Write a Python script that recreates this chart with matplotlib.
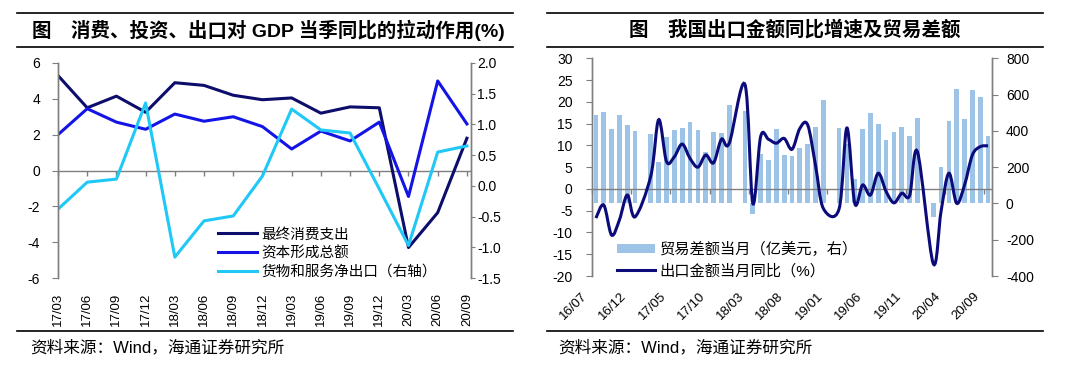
import numpy as np
import matplotlib
matplotlib.use('Agg')
import matplotlib.pyplot as plt
from matplotlib.path import Path
from matplotlib.patches import PathPatch, Patch
from matplotlib.lines import Line2D
from matplotlib.transforms import ScaledTranslation

plt.rcParams['font.family'] = ['Liberation Sans', 'Noto Sans CJK SC']
plt.rcParams['axes.unicode_minus'] = False

# left chart: quarterly contribution to GDP growth (%)
quarters = ['17/03', '17/06', '17/09', '17/12', '18/03', '18/06', '18/09', '18/12',
            '19/03', '19/06', '19/09', '19/12', '20/03', '20/06', '20/09']
consumption = [5.3, 3.5, 4.15, 3.25, 4.9, 4.75, 4.2, 3.95, 4.05, 3.2, 3.55, 3.5, -4.3, -2.35, 1.8]
investment = [2.0, 3.45, 2.7, 2.3, 3.15, 2.75, 3.0, 2.45, 1.2, 2.2, 1.65, 2.7, -1.45, 5.0, 2.6]
net_exports = [-0.38, 0.06, 0.11, 1.35, -1.16, -0.57, -0.49, 0.16, 1.25, 0.91, 0.86, -0.05, -0.97, 0.55, 0.65]

# right chart: monthly, 16/07 .. 20/09 (January left blank, Feb = Jan-Feb)
trade_balance = [487, 504, 408, 487, 434, 398, np.nan, 381, 229, 367, 403, 415,
                 451, 403, 285, 395, 390, 540, np.nan, 509, -60, 270, 240, 412,
                 268, 263, 305, 330, 419, 569, np.nan, 414, 326, 135, 412, 499,
                 440, 347, 392, 421, 373, 471, np.nan, -74, 200, 453, 632, 466,
                 623, 589, 370]
export_yoy = [-6.7, -3.7, -10.6, -7.1, -1.4, -6.4, np.nan, 3.0, 15.9, 6.3, 7.4, 10.3,
              7.0, 5.0, 7.8, 6.0, 11.4, 10.5, np.nan, 24.0, -3.3, 12.0, 11.4, 10.5,
              11.6, 9.1, 13.9, 14.7, 5.4, -4.5, np.nan, -4.6, 14.0, -3.3, 0.9, -1.4,
              3.6, -0.6, -3.2, -1.0, -1.5, 8.5, np.nan, -17.1, -5.2, 3.6, -3.3, 0.9,
              7.8, 9.7, 9.9]
month_labels = ['16/07', '16/12', '17/05', '17/10', '18/03', '18/08',
                '19/01', '19/06', '19/11', '20/04', '20/09']

NAVY = '#0D0D6B'
BLUE = '#1414E6'
CYAN = '#1FC8F7'
LINE2 = '#0B0B7A'
BAR = '#9DC3E6'
GRAY = '#7F7F7F'


def smooth_path(xs, ys):
    # Excel-like smoothed line (Catmull-Rom as cubic Bezier)
    pts = np.column_stack([xs, ys])
    n = len(pts)
    verts = [pts[0]]
    codes = [Path.MOVETO]
    for i in range(n - 1):
        p0 = pts[i - 1] if i > 0 else pts[i]
        p1, p2 = pts[i], pts[i + 1]
        p3 = pts[i + 2] if i + 2 < n else pts[i + 1]
        verts += [p1 + (p2 - p0) / 6, p2 - (p3 - p1) / 6, p2]
        codes += [Path.CURVE4] * 3
    return Path(verts, codes)


def style_spines(ax):
    for s in ['top', 'bottom']:
        ax.spines[s].set_visible(False)
    for s in ['left', 'right']:
        ax.spines[s].set_color(GRAY)
        ax.spines[s].set_linewidth(1.0)


W, H = 1080, 369
fig = plt.figure(figsize=(W / 100, H / 100), dpi=100)

# ---- decorations: rules, titles, sources
for x0, x1 in [(17, 513), (547, 1043)]:
    for y in [13, 47]:
        fig.add_artist(Line2D([x0 / W, x1 / W], [1 - y / H, 1 - y / H], color='black', lw=1.2))
    fig.add_artist(Line2D([x0 / W, x1 / W], [1 - 331 / H, 1 - 331 / H], color='black', lw=1.2))

fig.text(268 / W, 1 - 30 / H, '图　消费、投资、出口对 GDP 当季同比的拉动作用(%)',
         ha='center', va='center', fontsize=14, fontweight='bold')
fig.text(795 / W, 1 - 30 / H, '图　我国出口金额同比增速及贸易差额',
         ha='center', va='center', fontsize=14, fontweight='bold')
fig.text(30 / W, 1 - 347 / H, '资料来源：Wind，海通证券研究所', ha='left', va='center', fontsize=12)
fig.text(558 / W, 1 - 347 / H, '资料来源：Wind，海通证券研究所', ha='left', va='center', fontsize=12)

# ---- left chart
ax1 = fig.add_axes([58 / W, 1 - 278 / H, 413 / W, 215 / H])
xq = np.arange(len(quarters))
ax1.plot(xq, consumption, color=NAVY, lw=2.2, label='最终消费支出')
ax1.plot(xq, investment, color=BLUE, lw=2.2, label='资本形成总额')
ax1.axhline(0, color=GRAY, lw=1.0, zorder=1)
ax1.plot(xq, np.zeros(len(xq)), ls='none', marker=3, ms=3.5, mew=1.0, color=GRAY, clip_on=False)
ax1.set_xlim(0, len(quarters) - 1 + 0.14)
ax1.set_ylim(-6, 6)
ax1.set_yticks(np.arange(-6, 7, 2))
ax1.set_xticks(xq)
ax1.set_xticklabels(quarters, rotation=90, ha='center', va='top', fontsize=9.5)
ax1.tick_params(axis='x', length=0, pad=10.8)
ax1.tick_params(axis='y', direction='out', length=4, color=GRAY, labelsize=10, pad=9)

ax1b = ax1.twinx()
ax1b.plot(xq, net_exports, color=CYAN, lw=2.2, label='货物和服务净出口（右轴）')
ax1b.set_ylim(-1.5, 2.0)
ax1b.set_yticks(np.arange(-1.5, 2.01, 0.5))
ax1b.set_yticklabels(['%.1f' % v for v in np.arange(-1.5, 2.01, 0.5)])
ax1b.tick_params(axis='y', direction='out', length=3, color=GRAY, labelsize=10, pad=1.5)
style_spines(ax1)
style_spines(ax1b)

h1 = ax1.get_lines()[:2] + ax1b.get_lines()
ax1b.legend(h1, [h.get_label() for h in h1], loc='upper left', bbox_to_anchor=(0.387, 0.235),
            frameon=False, fontsize=10.5, borderpad=0, borderaxespad=0, handlelength=2.7,
            handletextpad=0.3, labelspacing=0.3)

# ---- right chart
ax2 = fig.add_axes([592 / W, 1 - 276 / H, 400 / W, 217.7 / H])
ax2b = ax2.twinx()
xm = np.arange(len(trade_balance))
ax2b.bar(xm, trade_balance, width=0.6, color=BAR, zorder=2)
ax2b.set_ylim(-400, 800)
ax2b.set_yticks(np.arange(-400, 801, 200))
ax2b.tick_params(axis='y', direction='out', length=4, color=GRAY, labelsize=10, pad=6)

ax2.set_zorder(ax2b.get_zorder() + 1)
ax2.patch.set_visible(False)
ey = np.array(export_yoy, dtype=float)
ok = ~np.isnan(ey)
ax2.add_patch(PathPatch(smooth_path(xm[ok], ey[ok]), fill=False, edgecolor=LINE2, lw=2.2, zorder=3))
ax2.axhline(0, color=GRAY, lw=1.0, zorder=1.5)
bounds = np.arange(-0.5, len(xm), 5)
ax2.plot(bounds, np.zeros(len(bounds)), ls='none', marker=3, ms=3.5, mew=1.0, color=GRAY, clip_on=False)
ax2.set_xlim(-0.5, len(xm) - 0.5)
ax2.set_ylim(-20, 30)
ax2.set_yticks(np.arange(-20, 31, 5))
ax2.tick_params(axis='y', direction='out', length=4, color=GRAY, labelsize=10, pad=10)
ax2.set_xticks(np.arange(0, len(xm), 5))
ax2.set_xticklabels(month_labels, rotation=45, ha='right', va='top', fontsize=9.5)
ax2.tick_params(axis='x', length=0, pad=10)
shift = ScaledTranslation(-6 / 100, 0, fig.dpi_scale_trans)
for lbl in ax2.get_xticklabels():
    lbl.set_transform(lbl.get_transform() + shift)
style_spines(ax2)
style_spines(ax2b)

h2 = [Patch(facecolor=BAR, edgecolor='none'), Line2D([], [], color=LINE2, lw=2.2)]
ax2.legend(h2, ['贸易差额当月（亿美元，右）', '出口金额当月同比（%）'], loc='upper left',
           bbox_to_anchor=(0.0625, 0.158), frameon=False, fontsize=11, borderpad=0,
           borderaxespad=0, handlelength=2.5, handleheight=0.6, handletextpad=0.3,
           labelspacing=0.45)

fig.savefig('out.png', dpi=100)
